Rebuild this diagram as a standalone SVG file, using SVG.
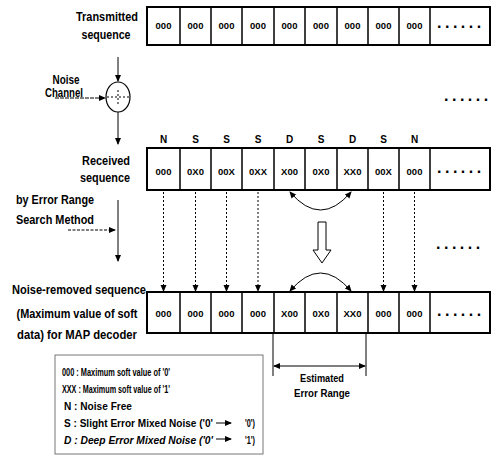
<svg xmlns="http://www.w3.org/2000/svg" width="496" height="456" viewBox="0 0 496 456">
<style>
text{font-family:"Liberation Sans",Arial,sans-serif;font-weight:bold;fill:#000}
.lbl{font-size:12px;text-anchor:middle}
.cell{font-size:9.5px;text-anchor:middle}
.tag{font-size:10px;text-anchor:middle}
.leg{font-size:10.5px}
.dots{font-size:16px;letter-spacing:3.5px}
.box{fill:#fff;stroke:#000;stroke-width:2}
.div{stroke:#000;stroke-width:1.5}
.ln{stroke:#000;stroke-width:1;fill:none}
.dot{stroke:#000;stroke-width:1;stroke-dasharray:2,2;fill:none}
</style>
<defs>
<marker id="ah" markerWidth="7" markerHeight="7" refX="6" refY="3.5" orient="auto-start-reverse" markerUnits="userSpaceOnUse">
<path d="M0,0.5 L7,3.5 L0,6.5 Z" fill="#000"/>
</marker>
</defs>

<g id="labels-left">
<text class="lbl" x="107" y="21" textLength="62" lengthAdjust="spacingAndGlyphs">Transmitted</text>
<text class="lbl" x="106" y="39" textLength="49" lengthAdjust="spacingAndGlyphs">sequence</text>
<text class="lbl" x="66" y="84" font-size="11" textLength="27" lengthAdjust="spacingAndGlyphs">Noise</text>
<text class="lbl" x="64" y="97" font-size="11" textLength="38" lengthAdjust="spacingAndGlyphs">Channel</text>
<text class="lbl" x="106" y="165" textLength="48" lengthAdjust="spacingAndGlyphs">Received</text>
<text class="lbl" x="105" y="182" textLength="50" lengthAdjust="spacingAndGlyphs">sequence</text>
<text x="16" y="204" font-size="12" textLength="78" lengthAdjust="spacingAndGlyphs">by Error Range</text>
<text x="16" y="224" font-size="12" textLength="78" lengthAdjust="spacingAndGlyphs">Search Method</text>
<text class="lbl" x="79" y="294" textLength="134" lengthAdjust="spacingAndGlyphs">Noise-removed sequence</text>
<text class="lbl" x="77" y="318" textLength="121" lengthAdjust="spacingAndGlyphs">(Maximum value of soft</text>
<text class="lbl" x="77" y="339" textLength="120" lengthAdjust="spacingAndGlyphs">data) for MAP decoder</text>
</g>

<g id="transmitted-row">
<rect class="box" x="147" y="7" width="343" height="38"/>
<path class="div" d="M180,7V45M211,7V45M242,7V45M274,7V45M305,7V45M337,7V45M368,7V45M399,7V45M430,7V45"/>
<text class="cell" x="163.5" y="29">000</text>
<text class="cell" x="195.5" y="29">000</text>
<text class="cell" x="226.5" y="29">000</text>
<text class="cell" x="258" y="29">000</text>
<text class="cell" x="289.5" y="29">000</text>
<text class="cell" x="321" y="29">000</text>
<text class="cell" x="352.5" y="29">000</text>
<text class="cell" x="383.5" y="29">000</text>
<text class="cell" x="414.5" y="29">000</text>
<text class="dots" x="437" y="28">......</text>
</g>

<g id="noise-channel">
<ellipse cx="118" cy="97" rx="12" ry="15" fill="#fff" stroke="#000" stroke-width="1.2"/>
<path class="dot" d="M107,97H129M118,90V104" stroke-dasharray="2,1.5"/>
</g>

<text id="dots-1" class="dots" x="444" y="101">......</text>

<g id="received-row">
<text class="tag" x="163.5" y="143">N</text>
<text class="tag" x="195.5" y="143">S</text>
<text class="tag" x="226.5" y="143">S</text>
<text class="tag" x="258" y="143">S</text>
<text class="tag" x="289.5" y="143">D</text>
<text class="tag" x="321" y="143">S</text>
<text class="tag" x="352.5" y="143">D</text>
<text class="tag" x="383.5" y="143">S</text>
<text class="tag" x="414.5" y="143">N</text>
<rect class="box" x="147" y="148" width="343" height="42"/>
<path class="div" d="M180,148V190M211,148V190M242,148V190M274,148V190M305,148V190M337,148V190M368,148V190M399,148V190M430,148V190"/>
<text class="cell" x="163.5" y="175">000</text>
<text class="cell" x="195.5" y="175">0X0</text>
<text class="cell" x="226.5" y="175">00X</text>
<text class="cell" x="258" y="175">0XX</text>
<text class="cell" x="289.5" y="175">X00</text>
<text class="cell" x="321" y="175">0X0</text>
<text class="cell" x="352.5" y="175">XX0</text>
<text class="cell" x="383.5" y="175">00X</text>
<text class="cell" x="414.5" y="175">000</text>
<text class="dots" x="437" y="173">......</text>
</g>

<text id="dots-2" class="dots" x="436" y="249">......</text>

<g id="noise-removed-row">
<rect class="box" x="147" y="292" width="343" height="41"/>
<path class="div" d="M180,292V333M211,292V333M242,292V333M274,292V333M305,292V333M337,292V333M368,292V333M399,292V333M430,292V333"/>
<text class="cell" x="163.5" y="317">000</text>
<text class="cell" x="195.5" y="317">000</text>
<text class="cell" x="226.5" y="317">000</text>
<text class="cell" x="258" y="317">000</text>
<text class="cell" x="289.5" y="317">X00</text>
<text class="cell" x="321" y="317">0X0</text>
<text class="cell" x="352.5" y="317">XX0</text>
<text class="cell" x="383.5" y="317">000</text>
<text class="cell" x="414.5" y="317">000</text>
<text class="dots" x="437" y="316">......</text>
</g>

<g id="connectors">
<path class="ln" d="M118,57V81" marker-end="url(#ah)"/>
<path class="ln" d="M55,98H105" marker-end="url(#ah)" stroke-dasharray="4,1"/>
<path class="ln" d="M118,112V144" marker-end="url(#ah)"/>
<path class="ln" d="M68,230H115" marker-end="url(#ah)" stroke-dasharray="3,1.5"/>
<path class="ln" d="M118,200V261" marker-end="url(#ah)"/>
<path class="dot" d="M163.5,192V291" marker-end="url(#ah)"/>
<path class="dot" d="M195.5,192V291" marker-end="url(#ah)"/>
<path class="dot" d="M226.5,192V291" marker-end="url(#ah)"/>
<path class="dot" d="M258,192V291" marker-end="url(#ah)"/>
<path class="dot" d="M383.5,192V291" marker-end="url(#ah)"/>
<path class="dot" d="M414.5,192V291" marker-end="url(#ah)"/>
<path class="ln" d="M290,192Q320.5,228 351,192" marker-start="url(#ah)" marker-end="url(#ah)"/>
<path class="ln" d="M290,291Q320.5,255 351,291" marker-start="url(#ah)" marker-end="url(#ah)"/>
<path d="M318,222H326V250H331L322,263L313,250H318Z" fill="#fff" stroke="#000" stroke-width="1"/>
<path class="ln" d="M273,334V376M366,334V376"/>
<path class="ln" d="M274,366H365" marker-start="url(#ah)" marker-end="url(#ah)"/>
</g>

<g id="estimated-range">
<text class="tag" x="322" y="382" textLength="44" lengthAdjust="spacingAndGlyphs">Estimated</text>
<text class="tag" x="322" y="397" textLength="56" lengthAdjust="spacingAndGlyphs">Error Range</text>
</g>

<g id="legend">
<rect x="55" y="355" width="208" height="99" fill="#fff" stroke="#777" stroke-width="1"/>
<text class="leg" x="62" y="376" textLength="108" lengthAdjust="spacingAndGlyphs">000 : Maximum soft value of '0'</text>
<text class="leg" x="62" y="393" textLength="108" lengthAdjust="spacingAndGlyphs">XXX : Maximum soft value of '1'</text>
<text class="leg" x="64" y="410" textLength="68" lengthAdjust="spacingAndGlyphs">N : Noise Free</text>
<text class="leg" x="64" y="427" textLength="149" lengthAdjust="spacingAndGlyphs">S : Slight Error Mixed Noise ('0'</text>
<path class="ln" d="M216,423H231" marker-end="url(#ah)"/>
<text class="leg" x="245" y="427" textLength="10" lengthAdjust="spacingAndGlyphs">'0')</text>
<text class="leg" x="64" y="444" textLength="149" lengthAdjust="spacingAndGlyphs" font-style="italic">D : Deep Error Mixed Noise ('0'</text>
<path class="ln" d="M216,439H231" marker-end="url(#ah)"/>
<text class="leg" x="245" y="444" textLength="10" lengthAdjust="spacingAndGlyphs">'1')</text>
</g>
</svg>
